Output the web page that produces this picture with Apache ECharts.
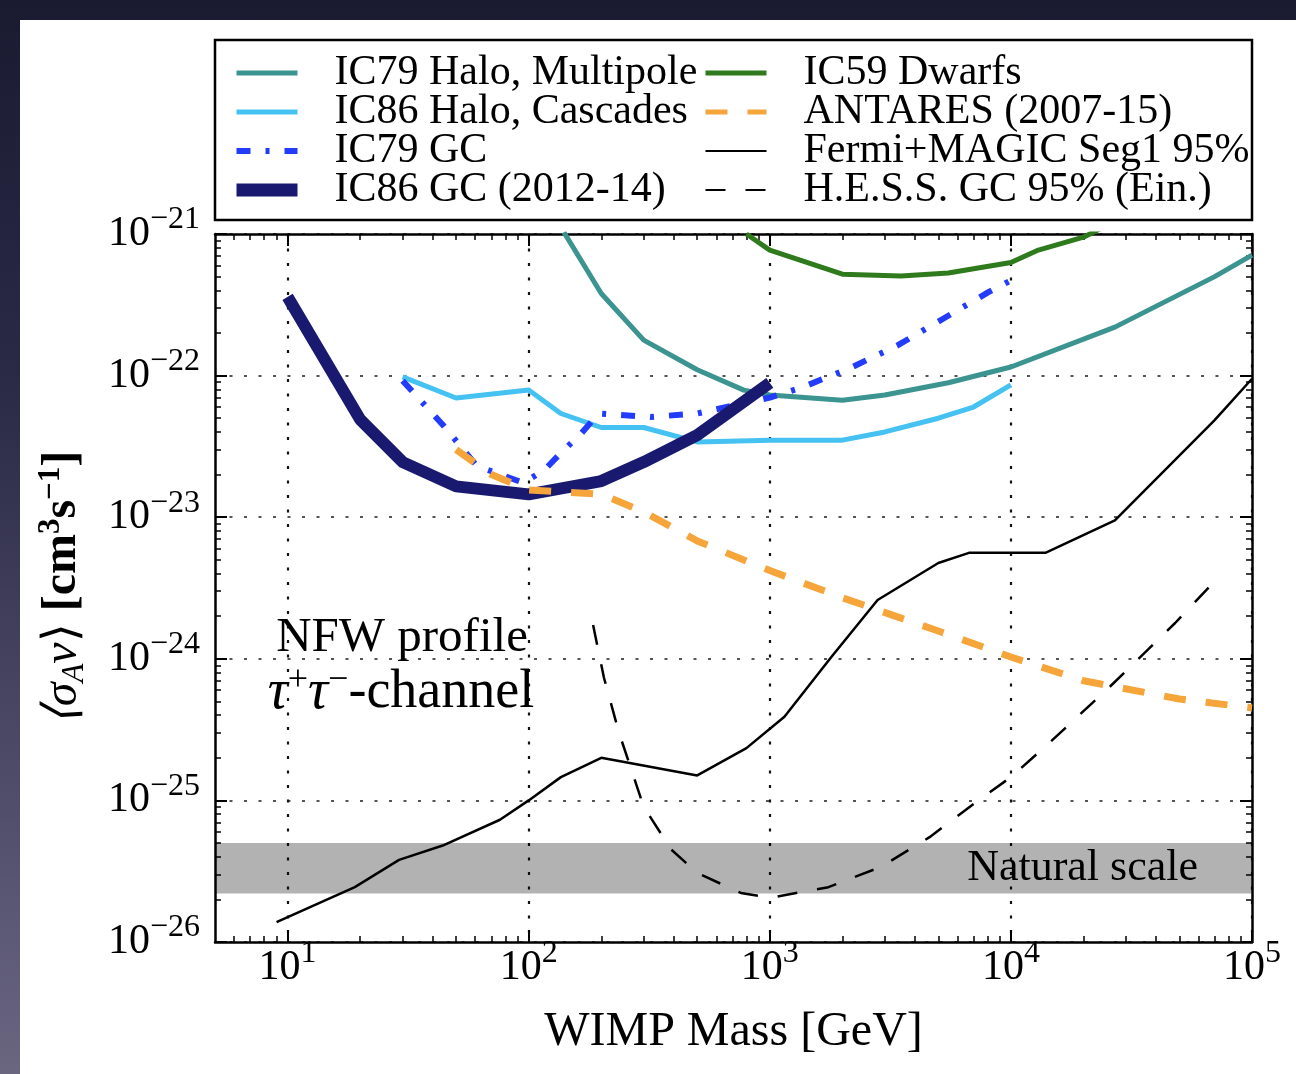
<!DOCTYPE html>
<html>
<head>
<meta charset="utf-8">
<title>WIMP annihilation limits</title>
<script src="https://cdn.jsdelivr.net/npm/echarts@6/dist/echarts.min.js"></script>
<style>
  html, body { margin: 0; padding: 0; width: 1296px; height: 1074px; overflow: hidden;
    background: linear-gradient(180deg, #1a1a31 0%, #2a2a46 35%, #514e6a 75%, #6a6680 100%); }
  #panel { position: absolute; left: 20px; top: 20px; width: 1276px; height: 1054px; background: #fff; }
  #chart { position: absolute; left: 0; top: 0; width: 1296px; height: 1074px; }
</style>
</head>
<body>
<div id="panel"></div>
<div id="chart"></div>
<script>
// Tick values (WIMP mass in GeV, cross section in cm^3 s^-1)
const massTicks = [10, 100, 1000, 10000, 100000];
const sigmaTicks = [1e-26, 1e-25, 1e-24, 1e-23, 1e-22, 1e-21];

// Limits: [mass GeV, <sigma_A v> cm^3 s^-1]
const ic79HaloMultipole = [[140, 1.03e-21], [200, 3.8e-22], [300, 1.78e-22], [500, 1.1e-22], [780, 7.9e-23],
  [1000, 7.3e-23], [2000, 6.7e-23], [3000, 7.3e-23], [5500, 8.9e-23], [10000, 1.15e-22], [27000, 2.2e-22],
  [70000, 5.0e-22], [100000, 7.1e-22]];
const ic86HaloCascades = [[30, 9.8e-23], [50, 6.95e-23], [100, 7.9e-23], [136, 5.4e-23], [200, 4.3e-23],
  [300, 4.3e-23], [500, 3.4e-23], [1000, 3.5e-23], [2000, 3.5e-23], [3000, 4.0e-23], [5000, 5.0e-23],
  [7000, 6.0e-23], [10000, 8.6e-23]];
const ic79GC = [[30, 9.2e-23], [44, 4.5e-23], [61, 2.3e-23], [95, 1.75e-23], [116, 2.15e-23], [136, 2.84e-23],
  [165, 3.9e-23], [195, 5.4e-23], [320, 5.1e-23], [500, 5.4e-23], [1000, 7.0e-23], [1350, 8.2e-23],
  [2200, 1.15e-22], [3400, 1.64e-22], [5300, 2.55e-22], [8100, 3.9e-22], [10000, 4.7e-22]];
const ic86GC = [[10, 3.6e-22], [20, 4.9e-23], [30, 2.45e-23], [50, 1.65e-23], [100, 1.45e-23], [200, 1.8e-23],
  [300, 2.45e-23], [500, 3.8e-23], [1000, 8.9e-23]];
const ic59Dwarfs = [[800, 1.0e-21], [1000, 7.7e-22], [2000, 5.2e-22], [3500, 5.05e-22], [5500, 5.3e-22],
  [10000, 6.3e-22], [13000, 7.7e-22], [20000, 9.5e-22], [25000, 1.15e-21]];
const antares = [[50, 3.0e-23], [70, 2.0e-23], [100, 1.56e-23], [200, 1.45e-23], [300, 1.09e-23], [500, 6.8e-24],
  [1000, 4.2e-24], [2000, 2.7e-24], [5000, 1.57e-24], [10000, 1.03e-24], [20000, 7.0e-25], [50000, 5.2e-25],
  [100000, 4.5e-25]];
const fermiMagic = [[9, 1.38e-26], [19, 2.44e-26], [29, 3.8e-26], [44, 4.8e-26], [76, 7.3e-26], [100, 1.0e-25],
  [136, 1.46e-25], [200, 2.0e-25], [500, 1.5e-25], [800, 2.34e-25], [1150, 3.9e-25], [1800, 1.03e-24],
  [2800, 2.6e-24], [5000, 4.75e-24], [6700, 5.6e-24], [13900, 5.6e-24], [27000, 9.5e-24], [70000, 4.85e-23],
  [100000, 9.5e-23]];
const hessGC = [[185, 1.73e-24], [205, 7.4e-25], [237, 3.0e-25], [300, 9.0e-26], [390, 4.5e-26], [500, 3.07e-26],
  [760, 2.22e-26], [1000, 2.05e-26], [1750, 2.44e-26], [2900, 3.4e-26], [4600, 5.5e-26], [7100, 9.6e-26],
  [10000, 1.46e-25], [14400, 2.54e-25], [25600, 6.3e-25], [48000, 1.79e-24], [68500, 3.4e-24]];

// Natural-scale band for a thermal relic
const naturalScale = [2.2e-26, 5.0e-26];

const SERIF = '"Liberation Serif", "Times New Roman", serif';

// The log axis rounds to at most 20 decimals, so cross sections are handed to it
// in units of 1e-27 cm^3 s^-1 and the labels put the exponent back.
const Y_SHIFT = 27;
const toAxisY = v => v * Math.pow(10, Y_SHIFT);
const decadeY = v => Math.pow(10, Math.round(Math.log10(v)) + Y_SHIFT);
const scaleSeries = pts => pts.map(([m, s]) => [m, toAxisY(s)]);

// Minor log ticks: 2..9 times each decade, inside the axis range
function minorTicks(decades, lo, hi) {
  const out = [];
  decades.forEach(d => { for (let k = 2; k <= 9; k++) { const v = k * d; if (v > lo && v < hi) out.push(v); } });
  return out;
}
const yTicks = sigmaTicks.map(decadeY);
const yMin = yTicks[0], yMax = yTicks[yTicks.length - 1];
const xMin = 5, xMax = 100000;
const massMinor = minorTicks(massTicks.slice(0, -1).map(v => v / 10).concat([10000]), xMin, xMax);
const sigmaMinor = minorTicks(yTicks.slice(0, -1), yMin, yMax);

const rich = {
  b: { fontFamily: SERIF, fontSize: 42, lineHeight: 44, color: '#000' },
  s: { fontFamily: SERIF, fontSize: 32, lineHeight: 32, padding: [0, 0, 28, 0], color: '#000' }
};
const powText = e => '{b|10}{s|' + String(e).replace('-', '\u2212') + '}';
const xLabel = v => powText(Math.round(Math.log10(v)));
const yLabel = v => powText(Math.round(Math.log10(v)) - Y_SHIFT);

const frameLine = { show: true, onZero: false, lineStyle: { color: '#000', width: 2.5 } };

function majorAxis(position, isX, withLabels) {
  const ticks = isX ? massTicks : yTicks;
  return {
    type: 'log', logBase: 10, gridIndex: 0, position,
    min: isX ? xMin : yMin, max: isX ? xMax : yMax,
    axisLine: frameLine,
    axisTick: { show: true, inside: true, length: 12, customValues: ticks, lineStyle: { color: '#000', width: 2 } },
    axisLabel: withLabels
      ? { show: true, customValues: ticks, formatter: isX ? xLabel : yLabel, rich, margin: isX ? 4 : 15 }
      : { show: false },
    splitLine: withLabels
      ? { show: true, lineStyle: { color: isX ? '#111' : '#555', width: 2.2, type: [3, 11.5] } }
      : { show: false },
    minorTick: { show: false }
  };
}
function minorAxis(position, isX) {
  return {
    type: 'log', logBase: 10, gridIndex: 0, position,
    min: isX ? xMin : yMin, max: isX ? xMax : yMax,
    axisLine: { show: false, onZero: false },
    axisTick: { show: true, inside: true, length: 6, customValues: isX ? massMinor : sigmaMinor,
      lineStyle: { color: '#000', width: 1.5 } },
    axisLabel: { show: false },
    splitLine: { show: false }
  };
}

const xMain = majorAxis('bottom', true, true);
xMain.name = 'WIMP Mass [GeV]';
xMain.nameLocation = 'middle';
xMain.nameGap = 66;
xMain.nameTextStyle = { fontFamily: SERIF, fontSize: 48, lineHeight: 48, color: '#000', verticalAlign: 'top' };

const yMain = majorAxis('left', false, true);
yMain.name = '{i|\u27e8\u03c3}{sub|A}{i|v}{n|\u27e9 }{bd|[cm}{sup|3}{bd|s}{sup|\u22121}{bd|]}';
yMain.nameLocation = 'middle';
yMain.nameRotate = 90;
yMain.nameGap = 128;
yMain.nameTextStyle = {
  color: '#000',
  rich: {
    i: { fontFamily: SERIF, fontStyle: 'italic', fontSize: 48, lineHeight: 48, color: '#000' },
    n: { fontFamily: SERIF, fontSize: 48, lineHeight: 48, color: '#000' },
    bd: { fontFamily: SERIF, fontWeight: 'bold', fontSize: 48, lineHeight: 48, color: '#000' },
    sub: { fontFamily: SERIF, fontStyle: 'italic', fontSize: 31, lineHeight: 31, padding: [24, 0, 0, 0], color: '#000' },
    sup: { fontFamily: SERIF, fontWeight: 'bold', fontSize: 31, lineHeight: 31, padding: [0, 0, 24, 0], color: '#000' }
  }
};

function lineSeries(name, data, color, width, type, z) {
  return {
    type: 'line', name, data: scaleSeries(data), xAxisIndex: 0, yAxisIndex: 0,
    symbol: 'none', showSymbol: false, smooth: false, clip: true, z: z || 3, silent: true,
    lineStyle: { color, width, type: type || 'solid', cap: 'butt', join: 'round' },
    itemStyle: { color }, emphasis: { disabled: true }
  };
}

const legendText = { fontFamily: SERIF, fontSize: 42, lineHeight: 39, color: '#000', padding: [0, 0, 0, 32] };
function legendBlock(left, items) {
  return {
    orient: 'vertical', left, top: 52, padding: 0, itemGap: -3, itemWidth: 61, itemHeight: 14,
    selectedMode: false, textStyle: legendText, itemStyle: { opacity: 0 },
    data: items.map(([name, width]) => ({ name, lineStyle: { width } }))
  };
}

const option = {
  backgroundColor: 'transparent',
  animation: false,
  grid: { left: 215, right: 44, top: 234, bottom: 132 },
  xAxis: [xMain, minorAxis('bottom', true), majorAxis('top', true, false), minorAxis('top', true)],
  yAxis: [yMain, minorAxis('left', false), majorAxis('right', false, false), minorAxis('right', false)],
  legend: [
    legendBlock(230, [['IC79 Halo, Multipole', 5], ['IC86 Halo, Cascades', 5], ['IC79 GC', 6], ['IC86 GC (2012-14)', 13]]),
    legendBlock(703, [['IC59 Dwarfs', 5], ['ANTARES (2007-15)', 5], ['Fermi+MAGIC Seg1 95%', 2], ['H.E.S.S. GC 95% (Ein.)', 2]])
  ],
  graphic: [
    { type: 'rect', shape: { x: 215, y: 40, width: 1037, height: 180 },
      style: { fill: 'none', stroke: '#000', lineWidth: 2.5 }, z: 10, silent: true },
    { type: 'text', z: 10, silent: true,
      style: { text: 'NFW profile', x: 402, y: 638, align: 'center', verticalAlign: 'middle',
        fontFamily: SERIF, fontSize: 49, fill: '#000' } },
    { type: 'text', z: 10, silent: true,
      style: { text: '{i|\u03c4}{sp|+}{i|\u03c4}{sp|\u2212}{n|-channel}', x: 401, y: 693, align: 'center', verticalAlign: 'middle',
        rich: {
          i: { fontFamily: SERIF, fontStyle: 'italic', fontSize: 56, lineHeight: 54, fill: '#000' },
          n: { fontFamily: SERIF, fontSize: 54, lineHeight: 54, fill: '#000' },
          sp: { fontFamily: SERIF, fontSize: 36, lineHeight: 36, padding: [0, 0, 24, 0], fill: '#000' }
        } } }
  ],
  series: [
    {
      type: 'line', name: 'Natural scale', data: [[xMin, toAxisY(naturalScale[0])]], symbol: 'none',
      lineStyle: { width: 0 }, xAxisIndex: 0, yAxisIndex: 0, z: 1, silent: true,
      markArea: {
        silent: true,
        itemStyle: { color: 'rgba(0,0,0,0.30)' },
        label: { show: true, position: 'insideRight', distance: 54, fontFamily: SERIF, fontSize: 44, color: '#000' },
        data: [[{ name: 'Natural scale', yAxis: toAxisY(naturalScale[0]) }, { yAxis: toAxisY(naturalScale[1]) }]]
      }
    },
    lineSeries('IC79 Halo, Multipole', ic79HaloMultipole, '#3b9490', 5),
    lineSeries('IC86 Halo, Cascades', ic86HaloCascades, '#45c1f2', 5),
    lineSeries('IC79 GC', ic79GC, '#233cfb', 6, [14, 15, 4, 15]),
    lineSeries('IC86 GC (2012-14)', ic86GC, '#191970', 12),
    lineSeries('IC59 Dwarfs', ic59Dwarfs, '#2f7a1d', 5),
    lineSeries('ANTARES (2007-15)', antares, '#f5a53a', 7, [22, 20]),
    lineSeries('Fermi+MAGIC Seg1 95%', fermiMagic, '#000', 2.5),
    lineSeries('H.E.S.S. GC 95% (Ein.)', hessGC, '#000', 2.5, [20, 20])
  ]
};

const chart = echarts.init(document.getElementById('chart'), null, { renderer: 'canvas' });
chart.setOption(option);
</script>
</body>
</html>
